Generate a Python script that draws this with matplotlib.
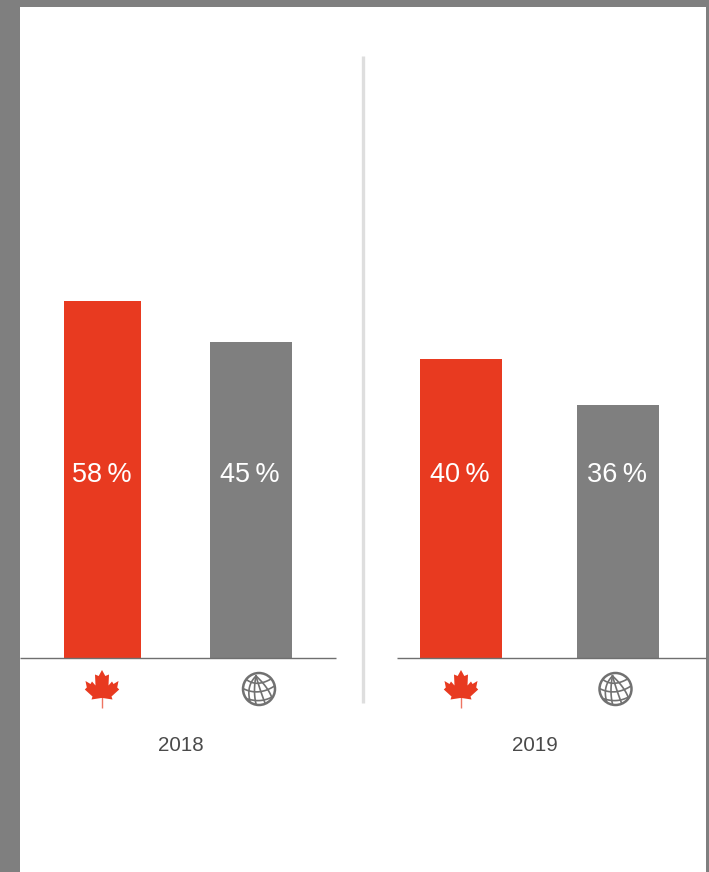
import numpy as np
import matplotlib
matplotlib.use('Agg')
import matplotlib.pyplot as plt
from matplotlib.patches import Polygon, Circle, Rectangle

plt.rcParams['font.family'] = ['Liberation Sans', 'DejaVu Sans']

#---------------------------------------------------------#
# Data
#---------------------------------------------------------#
years = ['2018', '2019']
values_2018 = [58, 45]
values_2019 = [40, 36]
labels_2018 = ['58\u2009%', '45\u2009%']
labels_2019 = ['40\u2009%', '36\u2009%']

RED = '#e83a20'
GREY = '#7f7f7f'
W, H = 709, 872
BASE_Y = 658.2

fig = plt.figure(figsize=(W / 100, H / 100), dpi=100, facecolor=GREY)


def pixel_layer(z):
    # full-figure axes in pixel coordinates
    a = fig.add_axes([0, 0, 1, 1], zorder=z)
    a.set_xlim(0, W)
    a.set_ylim(H, 0)
    a.axis('off')
    return a


bg = pixel_layer(0)
fg = pixel_layer(5)
bg.add_patch(Rectangle((20, 7), 686, H - 7, color='white', lw=0))
bg.plot([362.5, 362.5], [56, 703], color='#dedede', lw=2.4, solid_capstyle='butt')


# vertical limits of one year's axes from the pixel tops of its two bars
def fit_ylim(values, tops):
    a, b = values
    ta, tb = tops
    per_px = (a - b) / (tb - ta)
    base = a - (BASE_Y - ta) * per_px
    return base, base + (BASE_Y - 100) * per_px


def panel(x0, x1, ylim, values, labels, centres, widths, label_y=475):
    ax = fig.add_axes([x0 / W, 1 - BASE_Y / H, (x1 - x0) / W, (BASE_Y - 100) / H], zorder=2)
    ax.set_xlim(x0, x1)
    ax.set_ylim(*ylim)
    ax.patch.set_alpha(0)
    base = ylim[0]
    heights = [v - base for v in values]
    ax.bar(centres, heights, widths, bottom=base, color=[RED, GREY], lw=0)
    for c, lab in zip(centres, labels):
        fg.text(c - 0.8, label_y, lab, color='white', fontsize=19.5, ha='center', va='center')
    for s in ['top', 'left', 'right']:
        ax.spines[s].set_visible(False)
    ax.spines['bottom'].set_color('#6f6f6f')
    ax.spines['bottom'].set_linewidth(1.0)
    ax.spines['bottom'].set_capstyle('butt')
    ax.set_xticks([])
    ax.set_yticks([])
    return ax


panel(20, 336, fit_ylim(values_2018, (301, 342)), values_2018, labels_2018, [102.5, 251], [77, 82])
panel(397, 706, fit_ylim(values_2019, (359, 405)), values_2019, labels_2019, [461, 618], [82, 82])


def maple_leaf(cx, top):
    half = [(0, 0), (3.3, 6), (7, 4.5), (6.5, 15.5), (10, 11.5), (11.5, 14),
            (16.5, 11), (15.2, 17.5), (17.2, 19.5), (9.5, 26.5), (10.5, 29.5), (0.7, 28)]
    pts = [(cx + dx, top + dy) for dx, dy in half]
    pts += [(cx - dx, top + dy) for dx, dy in reversed(half)]
    bg.add_patch(Polygon(pts, closed=True, color=RED, lw=0))
    bg.plot([cx, cx], [top + 27, top + 38], color=RED, lw=1.0, alpha=0.7, solid_capstyle='butt')


def curve(cx, cy, p0, p1, p2, col):
    # quadratic bezier, offsets from the globe centre
    t = np.linspace(0, 1, 30)
    x = (1 - t) ** 2 * p0[0] + 2 * t * (1 - t) * p1[0] + t ** 2 * p2[0]
    y = (1 - t) ** 2 * p0[1] + 2 * t * (1 - t) * p1[1] + t ** 2 * p2[1]
    bg.plot(cx + x, cy + y, color=col, lw=1.2)


def globe(cx, cy, r=16, col='#717171'):
    bg.add_patch(Circle((cx, cy), r, fill=False, ec=col, lw=1.8))
    pole = (-3, -13)
    # meridians running down from the pole
    curve(cx, cy, pole, (-13, -3), (-9, 12), col)
    curve(cx, cy, pole, (-6, 2), (-3, 15), col)
    curve(cx, cy, pole, (1, 1), (6, 14), col)
    curve(cx, cy, pole, (9, -2), (13, 9), col)
    # parallels
    curve(cx, cy, (-12, -9), (-2, -2), (12, -10), col)
    curve(cx, cy, (-15, 0), (0, 7), (15.5, -3), col)
    curve(cx, cy, (-11, 10), (2, 14), (13, 8), col)


maple_leaf(102, 670)
maple_leaf(461, 670)
globe(259, 689)
globe(615.5, 689)

bg.text(181, 745, years[0], color='#4a4a4a', fontsize=14.8, ha='center', va='center')
bg.text(535, 745, years[1], color='#4a4a4a', fontsize=14.8, ha='center', va='center')

fig.savefig('out.png', dpi=100, facecolor=GREY)
